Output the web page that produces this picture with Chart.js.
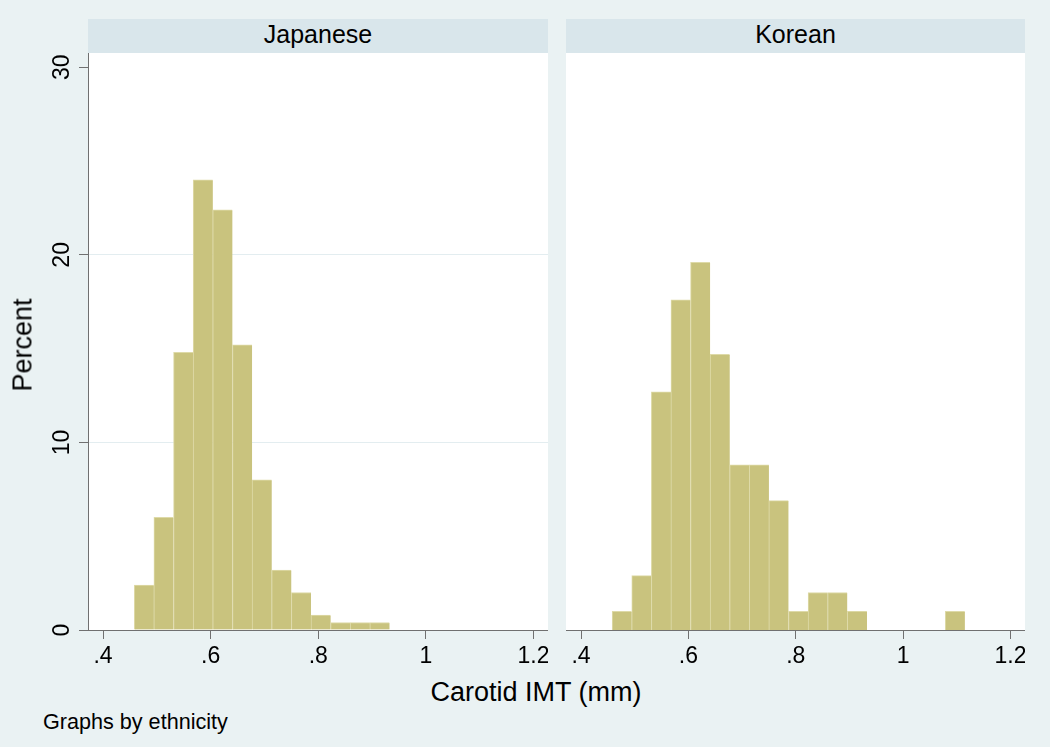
<!DOCTYPE html>
<html>
<head>
<meta charset="utf-8">
<script src="https://cdn.jsdelivr.net/npm/chart.js@4.4.1/dist/chart.umd.min.js"></script>
<style>
  body { margin: 0; background: #EAF2F3; font-family: "Liberation Sans", Arial, sans-serif; }
  #wrap { position: relative; width: 1050px; height: 747px; background: #EAF2F3; overflow: hidden; }
  .head { position: absolute; top: 19px; height: 34px; line-height: 30px; background: #D9E6EB;
          text-align: center; font-size: 25px; color: #000; }
  canvas { position: absolute; top: 53px; }
  .txt { position: absolute; color: #000; white-space: nowrap; }
</style>
</head>
<body>
<div id="wrap">
  <div class="head" style="left:88px;width:460px;">Japanese</div>
  <div class="head" style="left:566px;width:459px;">Korean</div>
  <canvas id="chart-jp" width="548" height="622" style="left:0px;"></canvas>
  <canvas id="chart-kr" width="459" height="622" style="left:566px;"></canvas>
  <div class="txt" style="left:23px;top:345px;font-size:27px;transform:translate(-50%,-50%) rotate(-90deg);">Percent</div>
  <div class="txt" style="left:536px;top:677px;font-size:27px;line-height:30px;transform:translateX(-50%);">Carotid IMT (mm)</div>
  <div class="txt" style="left:43px;top:709px;font-size:21.6px;line-height:26px;">Graphs by ethnicity</div>
</div>
<script>
// histogram bins (mid points, mm) and percent in each bin
const binMids = [0.47625, 0.51275, 0.54925, 0.58575, 0.62225, 0.65875, 0.69525, 0.73175, 0.76825,
                 0.80475, 0.84125, 0.87775, 0.91425, 0.95075, 0.98725, 1.02375, 1.06025, 1.09675]
const japanesePct = [2.4, 6.0, 14.8, 24.0, 22.4, 15.2, 8.0, 3.2, 2.0, 0.8, 0.4, 0.4, 0.4]
const koreanPct = [1.0, 2.9, 12.7, 17.6, 19.6, 14.7, 8.8, 8.8, 6.9, 1.0, 2.0, 2.0, 1.0, 0, 0, 0, 0, 1.0]

const xTicks = [0.4, 0.6, 0.8, 1.0, 1.2]
const xTickLabels = ['.4', '.6', '.8', '1', '1.2']
const yTicks = [0, 10, 20, 30]

const axisGray = '#707070'

// white plot region
const plotBg = {
    id: 'plotBg',
    beforeDraw(chart) {
        const a = chart.chartArea
        const ctx = chart.ctx
        ctx.save()
        ctx.fillStyle = '#ffffff'
        ctx.fillRect(a.left, a.top, a.right - a.left, a.bottom - a.top)
        ctx.restore()
    }
}

function makeChart(canvas, values, showY) {
    return new Chart(canvas, {
        type: 'bar',
        data: {
            datasets: [{
                data: values.map((v, i) => ({ x: binMids[i], y: v })),
                backgroundColor: '#C9C37E',
                borderColor: '#DEDAA8',
                borderWidth: { left: 1, top: 1, right: 0, bottom: 0 },
                barPercentage: 1,
                categoryPercentage: 1
            }]
        },
        options: {
            responsive: false,
            animation: false,
            layout: { padding: 0 },
            plugins: { legend: { display: false }, tooltip: { enabled: false } },
            scales: {
                x: {
                    type: 'linear',
                    min: 0.372,
                    max: 1.227,
                    offset: false,
                    afterBuildTicks: (s) => { s.ticks = xTicks.map(v => ({ value: v })) },
                    afterFit: (s) => { s.height = 45; s.paddingLeft = 0; s.paddingRight = 0 },
                    grid: { drawOnChartArea: false, offset: false, tickLength: 9, color: axisGray, tickColor: axisGray },
                    border: { color: axisGray, width: 1 },
                    ticks: {
                        callback: (v, i) => xTickLabels[i],
                        color: '#000',
                        font: { family: 'Liberation Sans', size: 23 },
                        padding: 4,
                        maxRotation: 0
                    }
                },
                y: {
                    display: showY,
                    min: 0,
                    max: 30.76,
                    afterBuildTicks: (s) => { s.ticks = yTicks.map(v => ({ value: v })) },
                    afterFit: (s) => { s.width = showY ? 88 : 0; s.paddingTop = 0; s.paddingBottom = 0 },
                    grid: {
                        color: (c) => (c.tick && (c.tick.value === 10 || c.tick.value === 20)) ? '#E3EDF0' : 'rgba(0,0,0,0)',
                        tickColor: axisGray,
                        tickLength: 9
                    },
                    border: { color: axisGray, width: 1 },
                    ticks: {
                        color: '#000',
                        font: { family: 'Liberation Sans', size: 23 },
                        minRotation: 90,
                        maxRotation: 90,
                        crossAlign: 'center',
                        padding: 4
                    }
                }
            }
        },
        plugins: [plotBg]
    })
}

const jpChart = makeChart(document.getElementById('chart-jp'), japanesePct, true)
const krChart = makeChart(document.getElementById('chart-kr'), koreanPct, false)
</script>
</body>
</html>
